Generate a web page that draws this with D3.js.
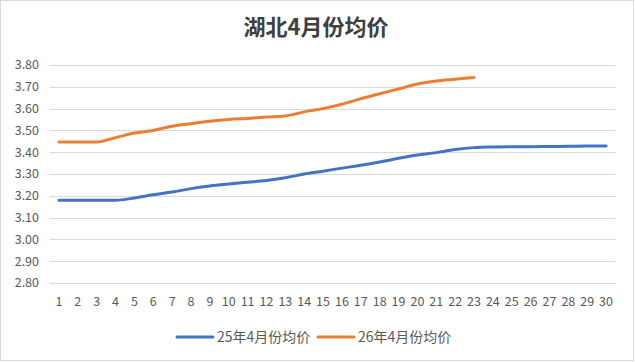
<!DOCTYPE html>
<meta charset="utf-8">
<script src="https://d3js.org/d3.v7.min.js"></script>
<style>
  body { margin: 0; background: #fff; }
  text { font-family: "Noto Sans CJK SC", "DejaVu Sans", sans-serif; }
</style>
<div id="chart"></div>
<script>
// data
const days = d3.range(1, 31);
const series25 = [3.18, 3.18, 3.18, 3.18, 3.19, 3.205, 3.217, 3.233, 3.245, 3.254,
                  3.262, 3.27, 3.283, 3.30, 3.313, 3.327, 3.34, 3.355, 3.372, 3.387,
                  3.398, 3.412, 3.421, 3.424, 3.425, 3.425, 3.426, 3.427, 3.428, 3.428];
const series26 = [3.447, 3.447, 3.447, 3.467, 3.488, 3.50, 3.519, 3.531, 3.542, 3.55,
                  3.555, 3.561, 3.566, 3.585, 3.60, 3.62, 3.645, 3.668, 3.69, 3.713,
                  3.727, 3.735, 3.743];
const yTicks = [2.8, 2.9, 3.0, 3.1, 3.2, 3.3, 3.4, 3.5, 3.6, 3.7, 3.8];
const names = ["25年4月份均价", "26年4月份均价"];
const colors = ["#4472C4", "#ED7D31"];

const W = 635, H = 362;
const margin = {top: 65, right: 19.5, bottom: 79, left: 49.5};

const svg = d3.select("#chart").append("svg")
  .attr("width", W).attr("height", H);

// outer border
svg.append("rect")
  .attr("x", 0.5).attr("y", 0.5)
  .attr("width", 633).attr("height", 360)
  .attr("fill", "#fff").attr("stroke", "#d9d9d9");

const x = d3.scaleBand()
  .domain(days)
  .range([margin.left, W - margin.right]);

const y = d3.scaleLinear()
  .domain([2.8, 3.8])
  .range([H - margin.bottom, margin.top]);

// gridlines
svg.append("g")
  .selectAll("line")
  .data(yTicks)
  .join("line")
  .attr("x1", margin.left).attr("x2", W - margin.right)
  .attr("y1", d => Math.round(y(d)) + 0.5)
  .attr("y2", d => Math.round(y(d)) + 0.5)
  .attr("stroke", "#d9d9d9");

// y labels
svg.append("g")
  .selectAll("text")
  .data(yTicks)
  .join("text")
  .attr("x", 39)
  .attr("y", d => y(d))
  .attr("dy", "0.35em")
  .attr("text-anchor", "end")
  .attr("font-size", 12.5)
  .attr("fill", "#595959")
  .text(d => d.toFixed(2));

// x labels
svg.append("g")
  .selectAll("text")
  .data(days)
  .join("text")
  .attr("x", d => x(d) + x.bandwidth() / 2)
  .attr("y", 302)
  .attr("dy", "0.35em")
  .attr("text-anchor", "middle")
  .attr("font-size", 12.5)
  .attr("fill", "#595959")
  .text(d => d);

const line = d3.line()
  .x((d, i) => x(days[i]) + x.bandwidth() / 2)
  .y(d => y(d))
  .curve(d3.curveMonotoneX);

[series25, series26].forEach((s, k) => {
  svg.append("path")
    .datum(s)
    .attr("d", line)
    .attr("fill", "none")
    .attr("stroke", colors[k])
    .attr("stroke-width", 3)
    .attr("stroke-linecap", "round")
    .attr("stroke-linejoin", "round");
});

// title
svg.append("text")
  .attr("x", 316)
  .attr("y", 27)
  .attr("dy", "0.35em")
  .attr("text-anchor", "middle")
  .attr("font-size", 22)
  .attr("font-weight", "bold")
  .attr("fill", "#404040")
  .text("湖北4月份均价");

// legend
const legX = [177, 318];
const leg = svg.append("g");
names.forEach((n, k) => {
  leg.append("line")
    .attr("x1", legX[k]).attr("x2", legX[k] + 36)
    .attr("y1", 337).attr("y2", 337)
    .attr("stroke", colors[k])
    .attr("stroke-width", 3)
    .attr("stroke-linecap", "round");
  leg.append("text")
    .attr("x", legX[k] + 40)
    .attr("y", 337)
    .attr("dy", "0.35em")
    .attr("font-size", 14)
    .attr("fill", "#595959")
    .text(n);
});
</script>
